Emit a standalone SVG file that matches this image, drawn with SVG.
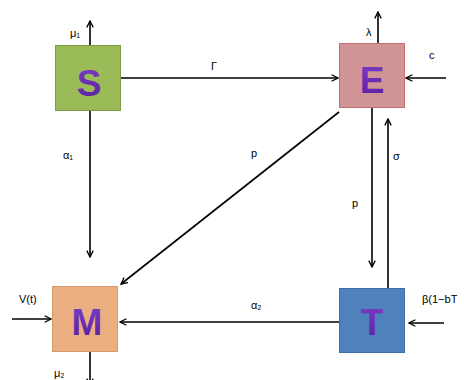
<svg xmlns="http://www.w3.org/2000/svg" width="464" height="380" viewBox="0 0 464 380">
<defs>
<marker id="ah" viewBox="0 0 10 10" refX="9" refY="5" markerWidth="8" markerHeight="8" markerUnits="userSpaceOnUse" orient="auto">
<path d="M1,1 L9,5 L1,9" fill="none" stroke="#000" stroke-width="1.6"/>
</marker>
<linearGradient id="lg" x1="0" y1="0" x2="0" y2="1">
<stop offset="0" stop-color="#7a3cc8"/>
<stop offset="1" stop-color="#5a1f9e"/>
</linearGradient>
</defs>
<style>
.c{stroke:#000;stroke-width:1.6;fill:none;marker-end:url(#ah)}
.l{font-family:"Liberation Sans",Arial,sans-serif;font-size:11px;fill:#000}
.big{font-family:"Liberation Sans",Arial,sans-serif;font-size:37px;font-weight:bold;fill:url(#lg);text-anchor:middle}
</style>
<rect width="464" height="380" fill="#fff"/>
<g id="connectors">
<line class="c" x1="90" y1="45" x2="90" y2="21"/>
<line class="c" x1="378" y1="43" x2="378" y2="12"/>
<line class="c" x1="121" y1="78" x2="338" y2="78"/>
<line class="c" x1="446" y1="78" x2="406" y2="78"/>
<line class="c" x1="90" y1="110" x2="90" y2="257"/>
<line class="c" x1="339" y1="112" x2="121" y2="284"/>
<line class="c" x1="372" y1="107" x2="372" y2="267"/>
<line class="c" x1="388" y1="288" x2="388" y2="119"/>
<line class="c" x1="12" y1="319" x2="51" y2="319"/>
<line class="c" x1="339" y1="322" x2="120" y2="322"/>
<line class="c" x1="444" y1="323" x2="409" y2="323"/>
<line class="c" x1="90" y1="352" x2="90" y2="385"/>
</g>
<g id="labels">
<text class="l" x="70" y="37">μ₁</text>
<text class="l" x="366" y="36">λ</text>
<text class="l" x="211" y="70">Γ</text>
<text class="l" x="429" y="59">c</text>
<text class="l" x="63" y="159">α₁</text>
<text class="l" x="251" y="157">p</text>
<text class="l" x="352" y="207">p</text>
<text class="l" x="393" y="160">σ</text>
<text class="l" x="19" y="303">V(t)</text>
<text class="l" x="251" y="309">α₂</text>
<text class="l" x="422" y="303">β(1−bT</text>
<text class="l" x="54" y="377">μ₂</text>
</g>
<g id="S">
<rect x="55.5" y="45.5" width="65" height="65" fill="#9bbb59" stroke="#7e9c45" stroke-width="1"/>
<text class="big" x="89" y="96">S</text>
</g>
<g id="E">
<rect x="339.5" y="43.5" width="65" height="64" fill="#d09494" stroke="#c07070" stroke-width="1"/>
<text class="big" x="372" y="93">E</text>
</g>
<g id="M">
<rect x="52.5" y="286.5" width="65" height="65" fill="#eaae80" stroke="#d49a6c" stroke-width="1"/>
<text class="big" x="87" y="335">M</text>
</g>
<g id="T">
<rect x="339.5" y="288.5" width="65" height="64" fill="#4f81bd" stroke="#3d6ea8" stroke-width="1"/>
<text class="big" x="372" y="335">T</text>
</g>
</svg>
